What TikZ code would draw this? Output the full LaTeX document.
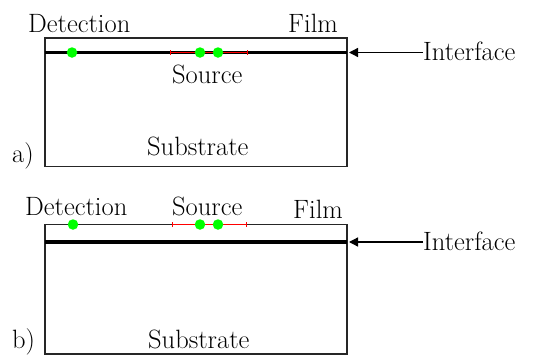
\documentclass[tikz,border=0pt]{standalone}
\usetikzlibrary{arrows.meta}
\begin{document}
\begin{tikzpicture}[x=1pt,y=-1pt,
  lbl/.style={font=\rmfamily\fontsize{26.5}{30}\selectfont, inner sep=0pt, anchor=base west},
  boxline/.style={draw=black!85, line width=1.6pt},
  ifaceline/.style={line width=3.6pt},
  gdot/.style={circle, fill=green, inner sep=0pt, minimum size=10.5pt},
  srcline/.style={draw=red, line width=1.4pt, {Bar[width=5pt,line width=1.4pt]}-{Bar[width=5pt,line width=1.4pt]}},
  ptr/.style={line width=1.3pt, -{Triangle[length=9pt,width=9pt]}}]
\useasboundingbox (0,0) rectangle (533,359);

% ---------- panel a ----------
\coordinate (aTL) at (45,38);
\coordinate (aBR) at (347,166.5);
\draw[boxline] (aTL) rectangle (aBR);
\coordinate (aIL) at (45,52.5);
\coordinate (aIR) at (347,52.5);
\draw[ifaceline] (aIL) -- (aIR);
\coordinate (aS1) at (170,52.5);
\coordinate (aS2) at (248,52.5);
\draw[srcline] (aS1) -- (aS2);
\node[gdot] (aD) at (72,52.5) {};
\node[gdot] (aG1) at (200,52.5) {};
\node[gdot] (aG2) at (218,52.5) {};
\node[lbl] (aDet) at (28,32) {Detection};
\node[lbl] (aFilm) at (288,32) {Film};
\node[lbl] (aSrc) at (172,83) {Source};
\node[lbl] (aSub) at (147,155) {Substrate};
\node[lbl] (aLab) at (12,162) {a)};
\node[lbl] (aInt) at (423,60) {Interface};
\coordinate (aTip) at (349,52.5);
\draw[ptr] (aInt.west |- aTip) -- (aTip);

% ---------- panel b ----------
\coordinate (bTL) at (45,224.5);
\coordinate (bBR) at (347,354);
\draw[boxline] (bTL) rectangle (bBR);
\coordinate (bIL) at (45,242);
\coordinate (bIR) at (347,242);
\draw[ifaceline] (bIL) -- (bIR);
\coordinate (bS1) at (172,224.5);
\coordinate (bS2) at (247,224.5);
\draw[srcline] (bS1) -- (bS2);
\node[gdot] (bD) at (73,224.5) {};
\node[gdot] (bG1) at (200,224.5) {};
\node[gdot] (bG2) at (218,224.5) {};
\node[lbl] (bDet) at (25,215) {Detection};
\node[lbl] (bSrc) at (172,215) {Source};
\node[lbl] (bFilm) at (293,218) {Film};
\node[lbl] (bSub) at (148,348) {Substrate};
\node[lbl] (bLab) at (12,348) {b)};
\node[lbl] (bInt) at (423,250) {Interface};
\coordinate (bTip) at (349,242);
\draw[ptr] (bInt.west |- bTip) -- (bTip);
\end{tikzpicture}
\end{document}
